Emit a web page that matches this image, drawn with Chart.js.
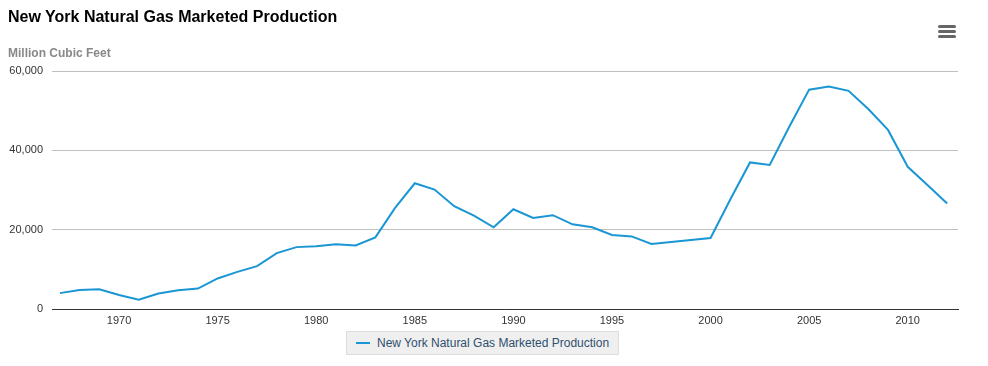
<!DOCTYPE html>
<html>
<head>
<meta charset="utf-8">
<script src="https://cdn.jsdelivr.net/npm/chart.js@4.4.1/dist/chart.umd.min.js"></script>
<style>
  html, body { margin: 0; padding: 0; background: #fff; }
  #wrap { position: relative; width: 988px; height: 366px; overflow: hidden; font-family: "Liberation Sans", Arial, sans-serif; }
  #c { position: absolute; left: 0; top: 0; }
  #title { position: absolute; left: 8px; top: 8px; font-size: 16px; font-weight: bold; color: #000; white-space: nowrap; }
  #ytitle { position: absolute; left: 8px; top: 46px; font-size: 12px; font-weight: bold; color: #888; white-space: nowrap; }
  #menu { position: absolute; left: 938px; top: 25px; width: 18px; }
  #menu div { height: 3px; background: #666; border-radius: 1.5px; margin-bottom: 2px; }
  #legend { position: absolute; left: 346px; top: 331px; height: 24px; padding: 0 9px; background: #efefef; border: 1px solid #ddd; box-sizing: border-box; display: flex; align-items: center; font-size: 12px; color: #2f4f6f; white-space: nowrap; }
  #legend .sw { width: 14px; height: 2px; background: #1a96d4; margin-right: 7px; }
</style>
</head>
<body>
<div id="wrap">
  <canvas id="c" width="988" height="366"></canvas>
  <div id="title">New York Natural Gas Marketed Production</div>
  <div id="ytitle">Million Cubic Feet</div>
  <div id="menu"><div></div><div></div><div></div></div>
  <div id="legend"><span class="sw"></span><span id="legtext"></span></div>
</div>
<script>
const seriesName = "New York Natural Gas Marketed Production";
const years = [1967,1968,1969,1970,1971,1972,1973,1974,1975,1976,1977,1978,1979,1980,1981,1982,1983,1984,1985,1986,1987,1988,1989,1990,1991,1992,1993,1994,1995,1996,1997,1998,1999,2000,2001,2002,2003,2004,2005,2006,2007,2008,2009,2010,2011,2012];
const production = [4000,4800,5000,3550,2350,3900,4750,5150,7700,9350,10800,14100,15600,15800,16300,16000,18050,25500,31700,30100,25900,23550,20600,25150,22950,23650,21350,20600,18650,18300,16400,16900,17400,17900,27600,36950,36300,46000,55300,56100,55000,50400,45150,35850,31250,26600];
const xTicks = [1970,1975,1980,1985,1990,1995,2000,2005,2010];
const yTicks = [0,20000,40000,60000];

document.getElementById('legtext').textContent = seriesName;

const points = years.map((y, i) => ({ x: y, y: production[i] }));

new Chart(document.getElementById('c'), {
  type: 'line',
  data: {
    datasets: [{
      label: seriesName,
      data: points,
      borderColor: '#1a96d4',
      backgroundColor: '#1a96d4',
      borderWidth: 2,
      pointRadius: 0,
      tension: 0,
      fill: false
    }]
  },
  options: {
    responsive: false,
    animation: false,
    devicePixelRatio: 1,
    layout: { padding: { left: 0, right: 30, top: 71, bottom: 37 } },
    plugins: { legend: { display: false }, title: { display: false }, tooltip: { enabled: false } },
    scales: {
      x: {
        type: 'linear',
        min: 1966.6,
        max: 2012.55,
        afterBuildTicks: (s) => { s.ticks = xTicks.map(v => ({ value: v })); },
        afterFit: (s) => { s.height = 20; },
        ticks: { callback: (v) => String(v), color: '#333', font: { family: '"Liberation Sans", Arial, sans-serif', size: 11 }, padding: 5, maxRotation: 0, autoSkip: false },
        grid: { display: false, drawTicks: false },
        border: { display: true, color: '#333', width: 1 }
      },
      y: {
        min: 0,
        max: 60000,
        afterBuildTicks: (s) => { s.ticks = yTicks.map(v => ({ value: v })); },
        afterFit: (s) => { s.width = 52; },
        ticks: { callback: (v) => v.toLocaleString('en-US'), color: '#333', font: { family: '"Liberation Sans", Arial, sans-serif', size: 11 }, padding: 9 },
        grid: { color: '#c0c0c0', lineWidth: 1, drawTicks: false },
        border: { display: false }
      }
    }
  }
});
</script>
</body>
</html>
